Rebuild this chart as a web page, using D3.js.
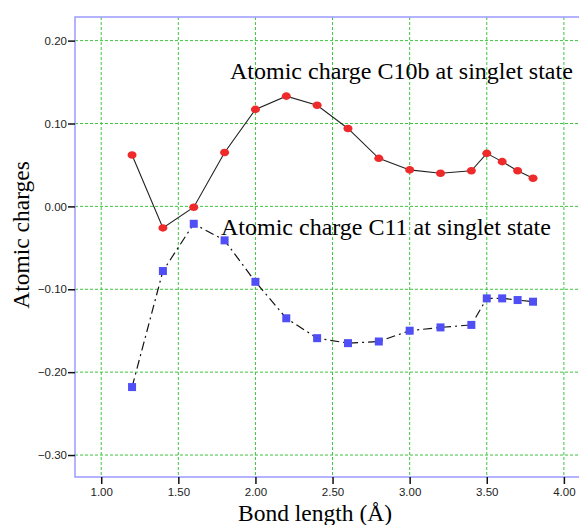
<!DOCTYPE html>
<html>
<head>
<meta charset="utf-8">
<script src="https://cdn.jsdelivr.net/npm/d3@7"></script>
<style>
body { margin: 0; background: #fff; }
.tick text { font-family: "Liberation Sans", Arial, sans-serif; font-size: 11.5px; fill: #222; }
</style>
</head>
<body>
<div id="chart"></div>
<script>
var bondLength = [1.2, 1.4, 1.6, 1.8, 2.0, 2.2, 2.4, 2.6, 2.8, 3.0, 3.2, 3.4, 3.5, 3.6, 3.7, 3.8];
var c10b = [0.062, -0.026, -0.001, 0.065, 0.117, 0.133, 0.122, 0.094, 0.058, 0.044, 0.040, 0.043, 0.064, 0.054, 0.043, 0.034];
var c11 = [-0.218, -0.078, -0.021, -0.041, -0.091, -0.135, -0.159, -0.165, -0.163, -0.150, -0.146, -0.143, -0.111, -0.111, -0.113, -0.115];
var xTicks = [1.0, 1.5, 2.0, 2.5, 3.0, 3.5, 4.0];
var yTicks = [0.2, 0.1, 0.0, -0.1, -0.2, -0.3];

var svg = d3.select("#chart").append("svg")
    .attr("width", 579)
    .attr("height", 525),
    margin = {top: 17, right: -4, bottom: 48, left: 75},
    width = +svg.attr("width") - margin.left - margin.right,
    height = +svg.attr("height") - margin.top - margin.bottom;

var x = d3.scaleLinear().domain([0.83, 4.124]).range([0, width]);
var y = d3.scaleLinear().domain([-0.3265, 0.2285]).range([height, 0]);

var g = svg.append("g")
    .attr("transform", "translate(" + margin.left + "," + margin.top + ")");

// grid
g.selectAll(".vgrid").data(xTicks).enter().append("line")
    .attr("x1", function(d) { return x(d); }).attr("x2", function(d) { return x(d); })
    .attr("y1", 0).attr("y2", height)
    .attr("stroke", "#3ec53e").attr("stroke-width", 1).attr("stroke-dasharray", "3,2");
g.selectAll(".hgrid").data(yTicks).enter().append("line")
    .attr("y1", function(d) { return y(d); }).attr("y2", function(d) { return y(d); })
    .attr("x1", 0).attr("x2", width)
    .attr("stroke", "#3ec53e").attr("stroke-width", 1).attr("stroke-dasharray", "3,2");

// frame
g.append("rect").attr("width", width).attr("height", height)
    .attr("fill", "none").attr("stroke", "#9a9aff").attr("stroke-width", 1.5);

// axes
var xa = g.append("g")
    .attr("transform", "translate(0," + height + ")")
    .call(d3.axisBottom(x).tickValues(xTicks).tickSize(7).tickPadding(4).tickFormat(d3.format(".2f")));
var ya = g.append("g")
    .call(d3.axisLeft(y).tickValues(yTicks).tickSize(7).tickPadding(1).tickFormat(d3.format(".2f")));
xa.select(".domain").remove();
ya.select(".domain").remove();
g.selectAll(".tick line").attr("stroke", "#111").attr("stroke-width", 1.5);

var pts1 = bondLength.map(function(b, i) { return [b, c10b[i]]; });
var pts2 = bondLength.map(function(b, i) { return [b, c11[i]]; });
var line = d3.line().x(function(d) { return x(d[0]); }).y(function(d) { return y(d[1]); });

g.append("path").datum(pts2).attr("d", line)
    .attr("fill", "none").attr("stroke", "#111").attr("stroke-width", 1.2)
    .attr("stroke-dasharray", "9,4,2,4");
g.append("path").datum(pts1).attr("d", line)
    .attr("fill", "none").attr("stroke", "#222").attr("stroke-width", 1.1);

g.selectAll(".dot").data(pts1).enter().append("ellipse")
    .attr("cx", function(d) { return x(d[0]); })
    .attr("cy", function(d) { return y(d[1]); })
    .attr("rx", 4.5).attr("ry", 3.8)
    .attr("fill", "#ee2a2a");
g.selectAll(".sq").data(pts2).enter().append("rect")
    .attr("x", function(d) { return x(d[0]) - 4; })
    .attr("y", function(d) { return y(d[1]) - 4; })
    .attr("width", 8).attr("height", 8)
    .attr("fill", "#4f4ff5");

// labels
var serif = "'Liberation Serif', 'Times New Roman', serif";
svg.append("text").attr("x", 230).attr("y", 79)
    .style("font-family", serif).style("font-size", "24px").attr("fill", "#000")
    .text("Atomic charge C10b at singlet state");
svg.append("text").attr("x", 221).attr("y", 235)
    .style("font-family", serif).style("font-size", "24px").attr("fill", "#000")
    .text("Atomic charge C11 at singlet state");
svg.append("text").attr("x", 315).attr("y", 521).attr("text-anchor", "middle")
    .style("font-family", serif).style("font-size", "23.5px").attr("fill", "#000")
    .text("Bond length (Å)");
svg.append("text").attr("transform", "translate(29,235) rotate(-90)").attr("text-anchor", "middle")
    .style("font-family", serif).style("font-size", "23.5px").attr("fill", "#000")
    .text("Atomic charges");
</script>
</body>
</html>
